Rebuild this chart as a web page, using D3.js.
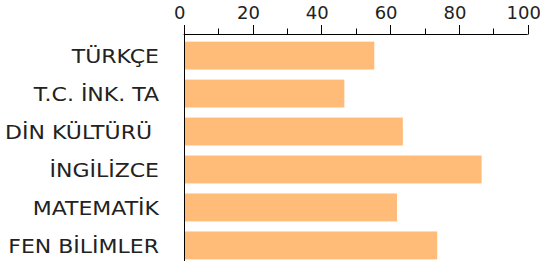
<!DOCTYPE html>
<html>
<head>
<meta charset="utf-8">
<script src="https://cdn.jsdelivr.net/npm/d3@7"></script>
<style>
  body { margin: 0; background: #fff; }
  text { font-family: "DejaVu Sans", sans-serif; fill: #222; }
</style>
</head>
<body>
<svg id="chart" width="540" height="261"></svg>
<script>
// lesson names and scores (percent)
const subjects = ["TÜRKÇE", "T.C. İNK. TA", "DİN KÜLTÜRÜ ", "İNGİLİZCE", "MATEMATİK", "FEN BİLİMLER"];
const scores = [55.4, 46.7, 63.7, 86.6, 62, 73.7];
const majorTicks = [0, 20, 40, 60, 80, 100];
const minorTicks = [10, 30, 50, 70, 90];

const svg = d3.select("#chart");

const x = d3.scaleLinear().domain([0, 100]).range([183.7, 527.7]);
const y = d3.scaleBand().domain(subjects).range([36.7, 264.3]).paddingInner(0.265).paddingOuter(0.13);

// bars
svg.append("g").selectAll("rect")
    .data(subjects)
    .join("rect")
    .attr("x", x(0) + 1)
    .attr("y", d => y(d))
    .attr("width", (d, i) => x(scores[i]) - x(0) - 1)
    .attr("height", y.bandwidth())
    .attr("fill", "#ffbb78");

// top axis
const axis = svg.append("g").attr("transform", "translate(0,34.5)");
axis.append("path")
    .attr("d", `M${x(0)},0H${x(100)}`)
    .attr("fill", "none").attr("stroke", "#000");
axis.selectAll(".major").data(majorTicks).join("line")
    .attr("class", "major")
    .attr("x1", d => Math.round(x(d)) + 0.5).attr("x2", d => Math.round(x(d)) + 0.5)
    .attr("y1", 0).attr("y2", -9.5)
    .attr("stroke", "#000");
axis.selectAll(".minor").data(minorTicks).join("line")
    .attr("class", "minor")
    .attr("x1", d => Math.round(x(d)) + 0.5).attr("x2", d => Math.round(x(d)) + 0.5)
    .attr("y1", 0).attr("y2", -6)
    .attr("stroke", "#000");
axis.selectAll(".tl").data(majorTicks).join("text")
    .attr("class", "tl")
    .attr("x", d => x(d) - 4)
    .attr("y", -15.5)
    .attr("text-anchor", "middle")
    .attr("font-size", 18)
    .text(d => d);

// left line
svg.append("line")
    .attr("x1", 184.5).attr("x2", 184.5)
    .attr("y1", 34).attr("y2", 261)
    .attr("stroke", "#000");

// category labels (slightly wide face in the original)
svg.append("g")
    .attr("transform", "translate(159,0) scale(1.1,1)")
    .selectAll("text")
    .data(subjects)
    .join("text")
    .attr("x", 0)
    .attr("y", d => y(d) + y.bandwidth() / 2)
    .attr("dy", "0.36em")
    .attr("text-anchor", "end")
    .attr("font-size", 20)
    .style("white-space", "pre")
    .text(d => d);
</script>
</body>
</html>
